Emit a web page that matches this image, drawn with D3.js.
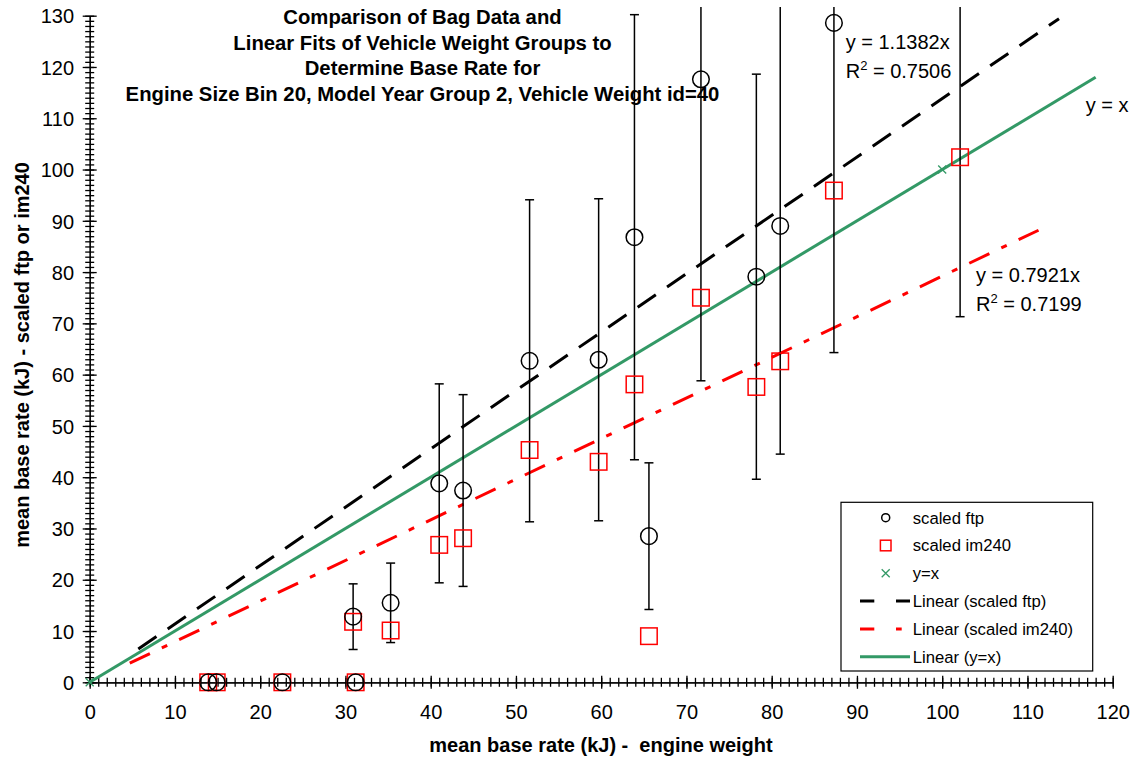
<!DOCTYPE html>
<html>
<head>
<meta charset="utf-8">
<script src="https://cdn.jsdelivr.net/npm/d3@7"></script>
<style>
  html, body { margin: 0; padding: 0; background: #fff; }
  svg { display: block; font-family: "Liberation Sans", Arial, sans-serif; }
</style>
</head>
<body>
<div id="chart"></div>
<script>
// data
const engineWeight = [13.9, 14.9, 22.6, 30.9, 31.2, 35.3, 41.0, 43.8, 51.6, 59.7, 63.9, 65.6, 71.7, 78.2, 81.0, 87.3, 102.1];
const scaledFtp    = [0, 0, 0, 12.8, 0, 15.5, 38.8, 37.4, 62.7, 62.9, 86.8, 28.5, 117.6, 79.1, 89.0, 128.6, 142.6];
const ftpErr       = [0, 0, 0, 6.4, 0, 7.75, 19.4, 18.7, 31.4, 31.4, 43.4, 14.3, 58.8, 39.5, 44.5, 64.3, 71.3];
const scaledIm240  = [0, 0, 0, 11.8, 0, 10.1, 26.8, 28.1, 45.3, 43.0, 58.1, 9.0, 75.0, 57.6, 62.6, 95.9, 102.4];
const yEqualsX     = [[0, 0], [100, 100]];

// trendlines: slope through origin, x extent of drawn line
const fitNames   = ['Linear (scaled ftp)', 'Linear (scaled im240)', 'Linear (y=x)'];
const fitSlopes  = [1.1382, 0.7921, 1];
const fitR2      = ['0.7506', '0.7199', null];
const fitXRanges = [[5.7, 113.7], [4.7, 111.3], [0, 118]];

const xTicks = d3.range(0, 121, 10);
const yTicks = d3.range(0, 131, 10);
const titleLines = [
    'Comparison of Bag Data and',
    'Linear Fits of Vehicle Weight Groups to',
    'Determine Base Rate for',
    'Engine Size Bin 20, Model Year Group 2, Vehicle Weight id=40'
];
const legendLabels = ['scaled ftp', 'scaled im240', 'y=x', ...fitNames];

const width = 1135, height = 759;
const green = '#339966', red = '#ff0000';

const x = d3.scaleLinear().domain([0, 120]).range([89.7, 1112.7]);
const y = d3.scaleLinear().domain([0, 130]).range([682.3, 15.7]);

const svg = d3.select('#chart').append('svg')
    .attr('width', width)
    .attr('height', height);

svg.append('defs').append('clipPath').attr('id', 'plot-clip')
    .append('rect')
    .attr('x', 80).attr('y', 7)
    .attr('width', 1045).attr('height', 690);

// axes: minor ticks every unit, major every 10, crossing the axis line
function styleAxis(g, labels) {
    g.select('.domain').attr('stroke', '#000').attr('stroke-width', 1.2);
    g.selectAll('.tick line').attr('stroke', '#000').attr('stroke-width', 1.3);
    if (!labels) g.selectAll('.tick text').remove();
}

const xMinor = svg.append('g').attr('transform', `translate(0,${y(0)})`)
    .call(d3.axisBottom(x).tickValues(d3.range(0, 121, 1)).tickSizeOuter(0).tickFormat(''));
styleAxis(xMinor, false);
xMinor.selectAll('.tick line').attr('y1', -4.5).attr('y2', 4.5);

const xMajor = svg.append('g').attr('transform', `translate(0,${y(0)})`)
    .call(d3.axisBottom(x).tickValues(xTicks).tickSizeOuter(0));
styleAxis(xMajor, true);
xMajor.selectAll('.tick line').attr('y1', -6.5).attr('y2', 6.5);
xMajor.selectAll('.tick text')
    .attr('y', 23).attr('fill', '#000')
    .style('font-size', '20px').style('font-family', '"Liberation Sans", Arial, sans-serif');

const yMinor = svg.append('g').attr('transform', `translate(${x(0)},0)`)
    .call(d3.axisLeft(y).tickValues(d3.range(0, 131, 1)).tickSizeOuter(0).tickFormat(''));
styleAxis(yMinor, false);
yMinor.selectAll('.tick line').attr('x1', -4.5).attr('x2', 4.5);

const yMajor = svg.append('g').attr('transform', `translate(${x(0)},0)`)
    .call(d3.axisLeft(y).tickValues(yTicks).tickSizeOuter(0));
styleAxis(yMajor, true);
yMajor.selectAll('.tick line').attr('x1', -7).attr('x2', 7);
yMajor.selectAll('.tick text')
    .attr('x', -15.7).attr('dy', '0.36em').attr('fill', '#000')
    .style('font-size', '20px').style('font-family', '"Liberation Sans", Arial, sans-serif');

// axis titles
svg.append('text')
    .attr('x', 601).attr('y', 752)
    .attr('text-anchor', 'middle')
    .style('font-size', '20px').style('font-weight', 'bold').style('white-space', 'pre')
    .text('mean base rate (kJ) -  engine weight');

svg.append('text')
    .attr('transform', 'translate(28.5,355) rotate(-90)')
    .attr('text-anchor', 'middle')
    .style('font-size', '20px').style('font-weight', 'bold')
    .text('mean base rate (kJ) - scaled ftp or im240');

// chart title
const title = svg.append('text')
    .attr('text-anchor', 'middle')
    .style('font-size', '20.3px').style('font-weight', 'bold');
titleLines.forEach((line, i) => {
    title.append('tspan').attr('x', 422.5).attr('y', 24 + i * 25.6).text(line);
});

const plot = svg.append('g').attr('clip-path', 'url(#plot-clip)');

// trendlines
const fitStyles = [
    { stroke: '#000', width: 3, dash: '22,13.6' },
    { stroke: red, width: 3, dash: '22.3,13.2,6,13.2' },
    { stroke: green, width: 3, dash: null }
];
const line = d3.line().x(d => x(d[0])).y(d => y(d[1]));
fitSlopes.forEach((m, i) => {
    const pts = fitXRanges[i].map(v => [v, m * v]);
    plot.append('path')
        .attr('d', line(pts))
        .attr('fill', 'none')
        .attr('stroke', fitStyles[i].stroke)
        .attr('stroke-width', fitStyles[i].width)
        .attr('stroke-dasharray', fitStyles[i].dash);
});

// error bars on scaled ftp
const capW = 4.5;
const errG = plot.append('g').attr('stroke', '#000').attr('stroke-width', 1.5);
engineWeight.forEach((w, i) => {
    if (!ftpErr[i]) return;
    const lo = scaledFtp[i] - ftpErr[i], hi = scaledFtp[i] + ftpErr[i];
    errG.append('line').attr('x1', x(w)).attr('x2', x(w)).attr('y1', y(lo)).attr('y2', y(hi));
    errG.append('line').attr('x1', x(w) - capW).attr('x2', x(w) + capW).attr('y1', y(lo)).attr('y2', y(lo));
    errG.append('line').attr('x1', x(w) - capW).attr('x2', x(w) + capW).attr('y1', y(hi)).attr('y2', y(hi));
});

// scaled im240 squares
const sq = 16.5;
plot.append('g').selectAll('rect')
    .data(engineWeight.map((w, i) => [w, scaledIm240[i]]))
    .join('rect')
    .attr('x', d => x(d[0]) - sq / 2)
    .attr('y', d => y(d[1]) - sq / 2)
    .attr('width', sq).attr('height', sq)
    .attr('fill', 'none').attr('stroke', red).attr('stroke-width', 1.5);

// scaled ftp circles
plot.append('g').selectAll('circle')
    .data(engineWeight.map((w, i) => [w, scaledFtp[i]]))
    .join('circle')
    .attr('cx', d => x(d[0]))
    .attr('cy', d => y(d[1]))
    .attr('r', 8.3)
    .attr('fill', 'none').attr('stroke', '#000').attr('stroke-width', 1.5);

// y=x markers
const cross = (g, cx, cy, s) => {
    g.append('path')
        .attr('d', `M${cx - s},${cy - s}L${cx + s},${cy + s}M${cx - s},${cy + s}L${cx + s},${cy - s}`)
        .attr('stroke', green).attr('stroke-width', 1.3).attr('fill', 'none');
};
yEqualsX.forEach(d => cross(plot, x(d[0]), y(d[1]), 4));

// fit annotations
function eqLabel(tx, ty, slope, r2) {
    const t = svg.append('text').style('font-size', '20px');
    t.append('tspan').attr('x', tx).attr('y', ty).text(`y = ${slope}x`);
    if (r2) {
        const t2 = svg.append('text').style('font-size', '20px').attr('x', tx).attr('y', ty + 29);
        t2.append('tspan').text('R');
        t2.append('tspan').style('font-size', '13px').attr('dy', -8).text('2');
        t2.append('tspan').attr('dy', 8).text(` = ${r2}`);
    }
}
eqLabel(845.7, 49.3, fitSlopes[0].toFixed(4), fitR2[0]);
eqLabel(976, 281.7, fitSlopes[1].toFixed(4), fitR2[1]);
svg.append('text').attr('x', 1085.7).attr('y', 111.7).style('font-size', '20px').text('y = x');

// legend
const legend = svg.append('g').attr('transform', 'translate(841,502.3)');
legend.append('rect')
    .attr('width', 251.7).attr('height', 168.7)
    .attr('fill', '#fff').attr('stroke', '#000').attr('stroke-width', 1.2);
const rowY = i => 15.4 + i * 27.8;
legendLabels.forEach((lab, i) => {
    legend.append('text')
        .attr('x', 71.7).attr('y', rowY(i) + 6)
        .style('font-size', '16.7px')
        .text(lab);
});
legend.append('circle').attr('cx', 44.7).attr('cy', rowY(0)).attr('r', 4)
    .attr('fill', 'none').attr('stroke', '#000').attr('stroke-width', 1.5);
legend.append('rect').attr('x', 44.7 - 5.3).attr('y', rowY(1) - 5.3).attr('width', 10.6).attr('height', 10.6)
    .attr('fill', 'none').attr('stroke', red).attr('stroke-width', 1.5);
cross(legend, 44.7, rowY(2), 4);
const legendDash = ['14.3,21.7', '14.3,21.7,5.7,100', null];
fitStyles.forEach((s, i) => {
    legend.append('line')
        .attr('x1', 19).attr('x2', 69)
        .attr('y1', rowY(3 + i)).attr('y2', rowY(3 + i))
        .attr('stroke', s.stroke).attr('stroke-width', 3)
        .attr('stroke-dasharray', legendDash[i]);
});
</script>
</body>
</html>
